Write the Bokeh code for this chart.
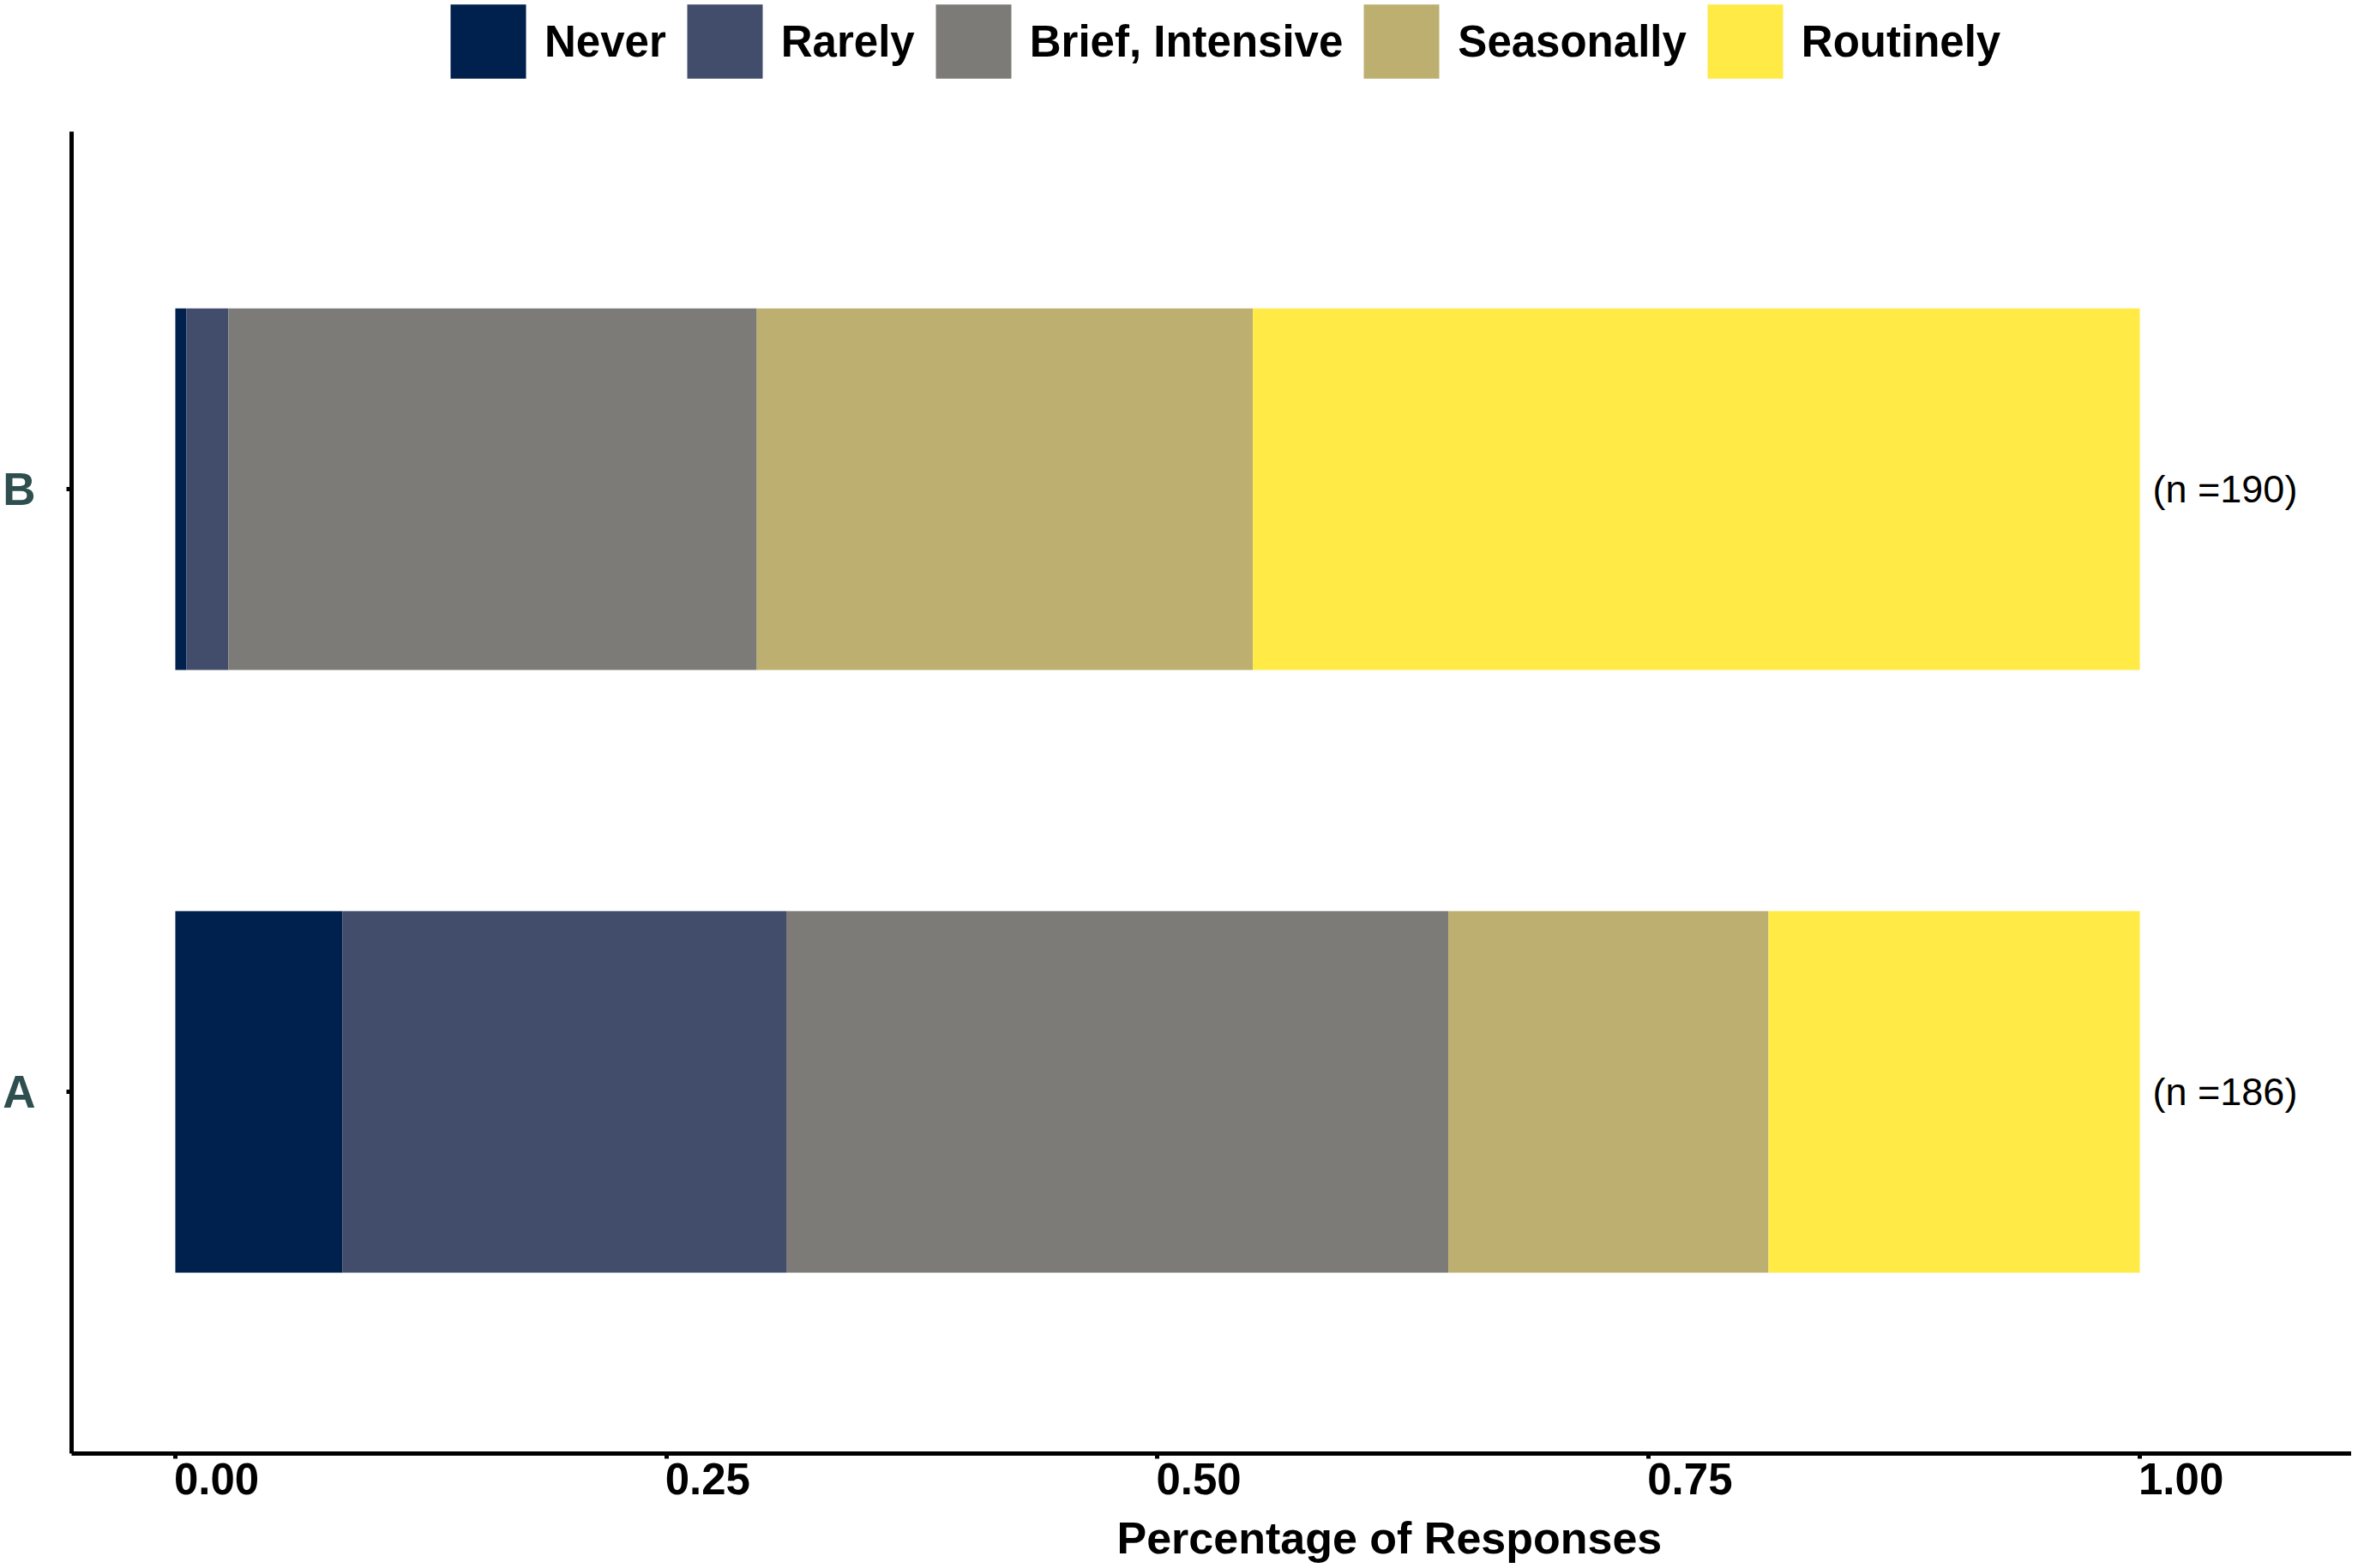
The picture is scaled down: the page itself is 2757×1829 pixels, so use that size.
from bokeh.plotting import figure
from bokeh.models import (Range1d, ColumnDataSource, FixedTicker, LinearAxis,
                          CustomJSTickFormatter, Title, Legend, LegendItem)
from bokeh.core.properties import value
from bokeh.embed import file_html
from bokeh.resources import INLINE

# ---- data ----
categories = ["A", "B"]
never = [0.085, 0.0056]
rarely = [0.226, 0.0214]
brief_intensive = [0.337, 0.269]
seasonally = [0.163, 0.2525]
routinely = [0.189, 0.4515]
n_labels = ["(n =186)", "(n =190)"]
label_x = [1.0, 1.0]

series_keys = ["never", "rarely", "brief_intensive", "seasonally", "routinely"]
series_names = ["Never", "Rarely", "Brief, Intensive", "Seasonally", "Routinely"]
colors = ["#00204D", "#414D6B", "#7C7B78", "#BCAF6F", "#FFEA46"]
x_ticks = [0, 0.25, 0.5, 0.75, 1.0]

# category slots on the y scale (one unit per category)
cat_pos = [i + 0.5 for i in range(len(categories))]

src = ColumnDataSource(dict(y=cat_pos, cat=categories, never=never, rarely=rarely,
                            brief_intensive=brief_intensive, seasonally=seasonally,
                            routinely=routinely, n=n_labels, lx=label_x))

FONT = "Liberation Sans"
Y_LO, Y_AXIS_HI, Y_HI = -0.100, 2.093, 2.3111
LABEL_SHIFT = 0.021  # tick labels start at their tick (left-justified)

p = figure(frame_width=2659, frame_height=1695, output_backend="svg",
           toolbar_location=None, title=None,
           x_range=Range1d(-0.0528, 1.1078), y_range=Range1d(Y_LO, Y_HI),
           min_border_left=82, min_border_right=0, min_border_top=0,
           min_border_bottom=118, background_fill_color="white",
           border_fill_color="white")

renderers = p.hbar_stack(series_keys, y="y", height=0.6, color=colors,
                         line_color=None, source=src)

p.text(x="lx", y="y", text="n", source=src, x_offset=15, text_align="left",
       text_baseline="middle", text_font=value(FONT), text_font_size=value("45px"),
       text_color="black")

legend = Legend(items=[LegendItem(label=nm, renderers=[r]) for nm, r in zip(series_names, renderers)],
                orientation="horizontal", location=(431, 1593),
                glyph_width=110, glyph_height=108, label_standoff=11, spacing=13,
                padding=0, margin=0, border_line_color=None, background_fill_alpha=0,
                label_text_font=FONT, label_text_font_style="bold",
                label_text_font_size="51px", label_text_color="black",
                label_text_baseline="middle")
p.add_layout(legend, "center")

# y axis
ya = p.yaxis[0]
ya.ticker = FixedTicker(ticks=cat_pos)
ya.formatter = CustomJSTickFormatter(args=dict(cats=categories),
                                     code="return cats[Math.round(tick - 0.5)];")
ya.bounds = (Y_LO, Y_AXIS_HI)
ya.axis_line_width = 5
ya.axis_line_color = "black"
ya.major_tick_line_width = 5
ya.major_tick_line_color = "black"
ya.major_tick_out = 6
ya.major_tick_in = 0
ya.minor_tick_line_color = None
ya.major_label_text_font = FONT
ya.major_label_text_font_style = "bold"
ya.major_label_text_font_size = "53px"
ya.major_label_text_color = "#2F4F4F"
ya.major_label_standoff = 36

# x axis: line + ticks
xa = p.xaxis[0]
xa.ticker = FixedTicker(ticks=x_ticks)
xa.formatter = CustomJSTickFormatter(code="return '';")
xa.axis_line_width = 5
xa.axis_line_color = "black"
xa.major_tick_line_width = 5
xa.major_tick_line_color = "black"
xa.major_tick_out = 6
xa.major_tick_in = 0
xa.minor_tick_line_color = None
xa.major_label_text_font_size = "0px"
xa.major_label_standoff = 0

# x tick labels, left-justified at their ticks
xl = LinearAxis(ticker=FixedTicker(ticks=[t + LABEL_SHIFT for t in x_ticks]),
                formatter=CustomJSTickFormatter(code=f"return (tick - {LABEL_SHIFT}).toFixed(2);"),
                axis_line_color=None, major_tick_line_color=None, minor_tick_line_color=None,
                major_tick_out=0, major_tick_in=0, major_label_standoff=5,
                major_label_text_font=FONT, major_label_text_font_style="bold",
                major_label_text_font_size="51px", major_label_text_color="black")
p.add_layout(xl, "below")

xt = Title(text="Percentage of Responses", align="left", offset=1219,
           vertical_align="bottom", standoff=35,
           text_font=FONT, text_font_style="bold", text_font_size="52px",
           text_color="black")
p.add_layout(xt, "below")

p.xgrid.grid_line_color = None
p.ygrid.grid_line_color = None
p.outline_line_color = None

open("out.html", "w").write(file_html(p, INLINE))
